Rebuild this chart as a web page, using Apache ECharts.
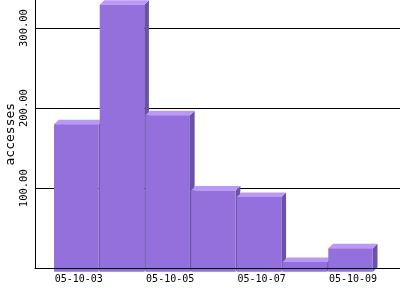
<!DOCTYPE html>
<html>
<head>
<meta charset="utf-8">
<script src="https://cdn.jsdelivr.net/npm/echarts@6/dist/echarts.min.js"></script>
<style>html,body{margin:0;padding:0;background:#fff}#c{width:400px;height:300px}</style>
</head>
<body>
<div id="c"></div>
<script>
var categories = ['05-10-03','05-10-04','05-10-05','05-10-06','05-10-07','05-10-08','05-10-09'];
var accesses = [180, 329, 191, 97, 89, 8, 25];
var yTicks = [0, 100, 200, 300];

var FRONT = '#9370DB', TOP = '#BB96FF', SIDE = '#6A52A8';
var chart = echarts.init(document.getElementById('c'), null, {renderer:'canvas'});

function renderItem(params, api){
  var i = api.value(0), v = api.value(1);
  var top = api.coord([i, v]);
  var base = api.coord([i, 0]);
  var slot = api.size([1, 0])[0];
  var w = slot - 1.2;
  var x0 = top[0] - w/2, x1 = top[0] + w/2;
  var y0 = top[1], y1 = base[1] + 3.5;
  var dx = 4.7, dy = 4.5;
  return {type:'group', children:[
    {type:'polygon', shape:{points:[[x1,y0],[x1+dx,y0-dy],[x1+dx,y1-dy],[x1,y1]]}, style:{fill:SIDE, opacity:1}},
    {type:'polygon', shape:{points:[[x0,y0],[x0+dx,y0-dy],[x1+dx,y0-dy],[x1,y0]]}, style:{fill:TOP, opacity:1}},
    {type:'rect', shape:{x:x0, y:y0, width:w, height:y1-y0}, style:{fill:FRONT, opacity:1}}
  ]};
}

chart.setOption({
  animation:false,
  grid:[
    {left:35, right:0, top:0, bottom:31.7, outerBoundsMode:'none', containLabel:false},
    {left:53.4, right:26.6, top:0, bottom:31.7, outerBoundsMode:'none', containLabel:false},
    {left:35, right:0, top:0, bottom:31.7, outerBoundsMode:'none', containLabel:false, z:20}
  ],
  xAxis:[
    {gridIndex:0, type:'value', min:0, max:1,
     axisLine:{show:false}, axisTick:{show:false}, axisLabel:{show:false}, splitLine:{show:false}},
    {gridIndex:1, type:'category', data:categories, boundaryGap:true,
     axisLine:{show:false}, axisTick:{show:false},
     axisLabel:{interval:1, margin:6, color:'#000', fontFamily:'DejaVu Sans Mono', fontSize:10, padding:[0,0,0,5]}},
    {gridIndex:2, type:'value', min:0, max:1, z:20,
     axisLine:{show:true, onZero:false, lineStyle:{color:'#000', width:1}},
     axisTick:{show:false}, axisLabel:{show:false}, splitLine:{show:false}}
  ],
  yAxis:[
    {gridIndex:0, type:'value', min:yTicks[0], max:335, interval:100, z:0,
     name:'accesses', nameLocation:'middle', nameGap:18, nameRotate:90, nameMoveOverlap:false,
     nameTextStyle:{color:'#000', fontFamily:'DejaVu Sans Mono', fontSize:13},
     axisLine:{show:true, lineStyle:{color:'#000', width:1}},
     axisTick:{show:false},
     axisLabel:{rotate:90, margin:5, showMinLabel:false, showMaxLabel:false, color:'#000', fontFamily:'DejaVu Sans Mono', fontSize:10.5,
       formatter:function(v){return v.toFixed(2);}},
     splitLine:{show:true, showMinLine:false, showMaxLine:false, lineStyle:{color:'#000', width:1}}},
    {gridIndex:1, type:'value', min:yTicks[0], max:335, interval:100, show:false},
    {gridIndex:2, type:'value', min:yTicks[0], max:335, interval:100, show:false}
  ],
  series:[{
    type:'custom', xAxisIndex:1, yAxisIndex:1, z:5,
    renderItem:renderItem,
    data:accesses.map(function(v,i){return [i,v];})
  }]
});
</script>
</body>
</html>
